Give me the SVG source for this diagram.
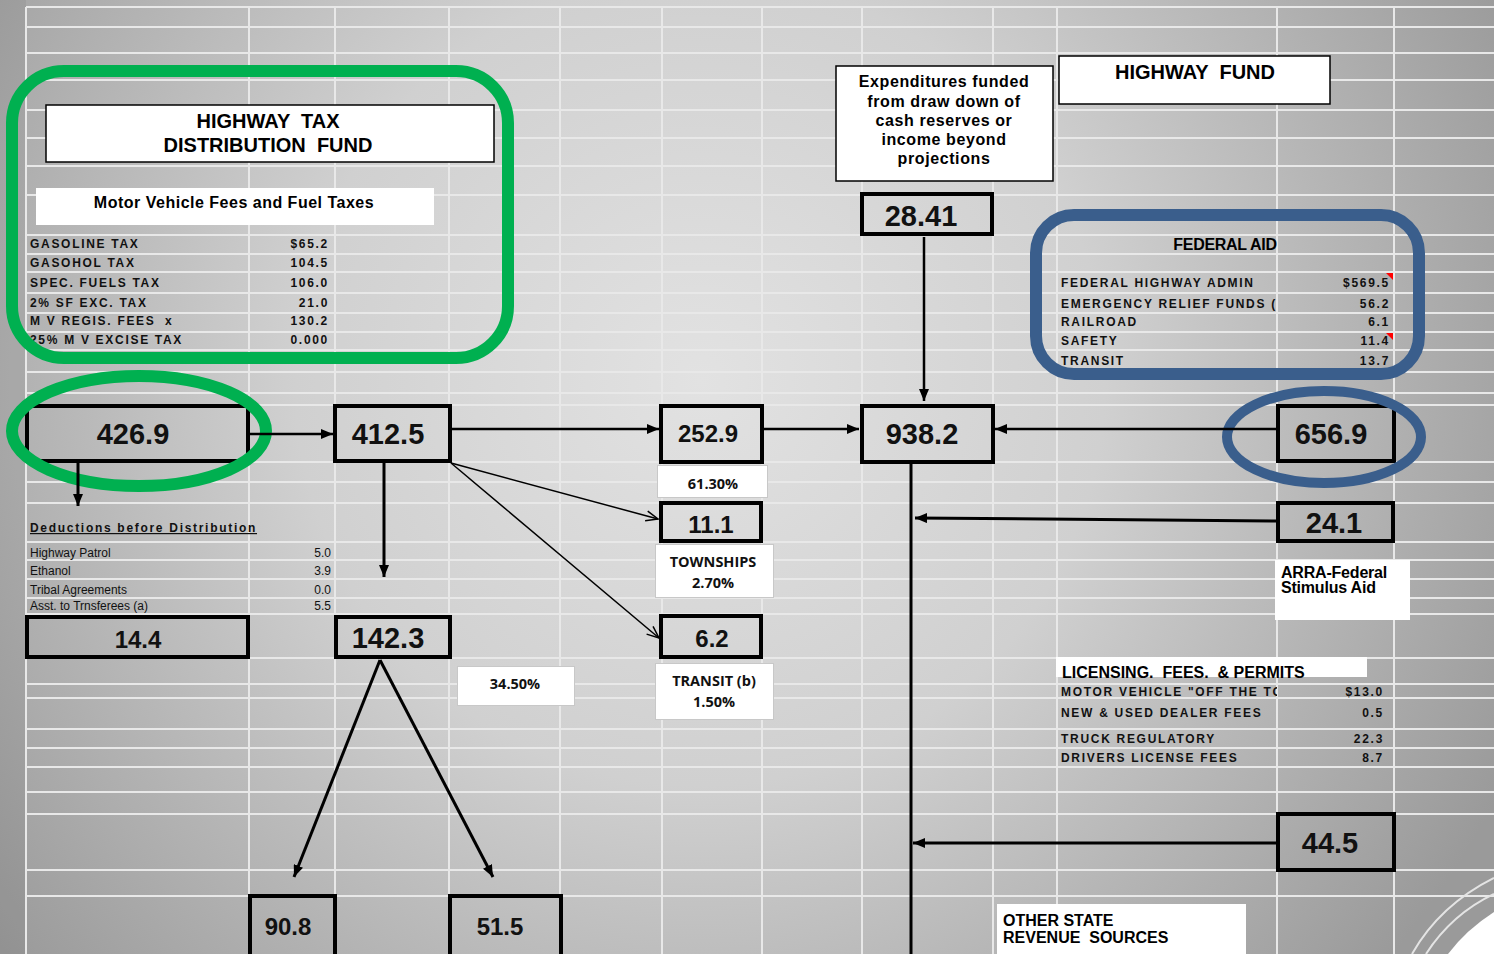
<svg xmlns="http://www.w3.org/2000/svg" width="1494" height="954" viewBox="0 0 1494 954">
<defs>
<radialGradient id="bg" gradientUnits="userSpaceOnUse" cx="700" cy="380" r="900">
<stop offset="0" stop-color="#e2e2e2"/>
<stop offset="0.45" stop-color="#d0d0d0"/>
<stop offset="1" stop-color="#9a9a9a"/>
</radialGradient>
<marker id="ah" viewBox="0 0 12 10" refX="12" refY="5" markerWidth="12" markerHeight="10" markerUnits="userSpaceOnUse" orient="auto"><path d="M0,0 L12,5 L0,10 z" fill="#000"/></marker>
<marker id="ao" viewBox="0 0 14 12" refX="13" refY="6" markerWidth="14" markerHeight="12" markerUnits="userSpaceOnUse" orient="auto"><path d="M1,1 L13,6 L1,11" fill="none" stroke="#000" stroke-width="1.5"/></marker>
<clipPath id="clipFed"><rect x="1040" y="200" width="237" height="200"/></clipPath>
<clipPath id="clipLic"><rect x="1040" y="680" width="237" height="30"/></clipPath>
</defs>
<style>
.grid{stroke:#e8e8e8;stroke-width:2;fill:none}
.nbox{fill:none;stroke:#000;stroke-width:4}
.wbox{fill:#fff;stroke:#000;stroke-width:1.5}
.lbox{fill:#fff;stroke:#c8c8c8;stroke-width:1}
.pbox{fill:#fff;stroke:none}
.big{font-family:"Liberation Sans",Arial,sans-serif;font-weight:bold;font-size:29px;fill:#111;text-anchor:middle}
.med{font-family:"Liberation Sans",Arial,sans-serif;font-weight:bold;font-size:24px;fill:#111;text-anchor:middle}
.title{font-family:"Liberation Sans",Arial,sans-serif;font-weight:bold;font-size:20px;fill:#000;text-anchor:middle}
.sub{font-family:"Liberation Sans",Arial,sans-serif;font-weight:bold;font-size:16px;fill:#000}
.row{font-family:"Liberation Sans",Arial,sans-serif;font-weight:bold;font-size:12px;letter-spacing:1.7px;fill:#111}
.val{font-family:"Liberation Sans",Arial,sans-serif;font-weight:bold;font-size:12px;letter-spacing:1.7px;fill:#111;text-anchor:end}
.ded{font-family:"Liberation Sans",Arial,sans-serif;font-size:12px;fill:#111}
.dedv{font-family:"Liberation Sans",Arial,sans-serif;font-size:12px;fill:#111;text-anchor:end}
.cal{font-family:"Open Sans",sans-serif;font-weight:bold;font-size:14.5px;fill:#111;text-anchor:middle}
.thick{stroke:#000;stroke-width:3;fill:none}
.mid{stroke:#000;stroke-width:2.5;fill:none}
.thin{stroke:#000;stroke-width:1.5;fill:none}
</style>

<!-- background -->
<rect x="0" y="0" width="1494" height="954" fill="url(#bg)"/>
<rect x="0" y="0" width="26" height="954" fill="#000" fill-opacity="0.05"/>
<path class="grid" d="M26,7V954 M249,7V954 M335,7V954 M449,7V954 M560,7V954 M662,7V954 M762,7V954 M862,7V954 M993,7V954 M1057,7V954 M1277,7V954 M1394,7V954
M26,7H1494 M26,27H1494 M26,53H1494 M26,80H1494 M26,110H1494 M26,138H1494 M26,166H1494 M26,195H1494 M26,235H1494 M26,254H1494 M26,272H1494 M26,293H1494 M26,313H1494 M26,332H1494 M26,350H1494 M26,372H1494 M26,393H1494 M26,405H1494 M26,462H1494 M26,482H1494 M26,503H1494 M26,542H1494 M26,560H1494 M26,579H1494 M26,598H1494 M26,614H1494 M26,658H1494 M26,684H1494 M26,698H1494 M26,729H1494 M26,748H1494 M26,767H1494 M26,792H1494 M26,814H1494 M26,870H1494 M26,896H1494"/>
<path d="M1448,954 Q1466,930 1494,912 L1494,954 Z" fill="#fff"/>
<path d="M1412,954 Q1440,905 1494,878" fill="none" stroke="#e4e4e4" stroke-width="2"/>
<path d="M1426,954 Q1452,914 1494,894" fill="none" stroke="#e4e4e4" stroke-width="2"/>

<!-- Highway Tax Distribution Fund panel -->
<g id="htdf-panel">
<rect class="wbox" x="46" y="105" width="448" height="57"/>
<text class="title" x="268" y="128" xml:space="preserve">HIGHWAY  TAX</text>
<text class="title" x="268" y="152" xml:space="preserve">DISTRIBUTION  FUND</text>
<rect class="pbox" x="36" y="188" width="398" height="37"/>
<text class="sub" x="234" y="208" text-anchor="middle" font-size="17" letter-spacing="0.5">Motor Vehicle Fees and Fuel Taxes</text>
<text class="row" x="30" y="248">GASOLINE TAX</text><text class="val" x="329" y="248">$65.2</text>
<text class="row" x="30" y="267">GASOHOL TAX</text><text class="val" x="329" y="267">104.5</text>
<text class="row" x="30" y="287">SPEC. FUELS TAX</text><text class="val" x="329" y="287">106.0</text>
<text class="row" x="30" y="307">2% SF EXC. TAX</text><text class="val" x="329" y="307">21.0</text>
<text class="row" x="30" y="325">M V REGIS. FEES</text><text class="row" x="165" y="325">x</text><text class="val" x="329" y="325">130.2</text>
<text class="row" x="30" y="344">25% M V EXCISE TAX</text><text class="val" x="329" y="344">0.000</text>
<rect x="12" y="71" width="496" height="287" rx="52" ry="52" fill="none" stroke="#00b050" stroke-width="12"/>
</g>

<!-- Highway Fund title -->
<g id="highway-fund">
<rect class="wbox" x="1059" y="56" width="271" height="48"/>
<text class="title" x="1195" y="79" xml:space="preserve">HIGHWAY  FUND</text>
</g>

<!-- Expenditures note -->
<g id="expenditures">
<rect class="wbox" x="836" y="66" width="217" height="115"/>
<text class="sub" x="944" y="87" text-anchor="middle" letter-spacing="0.6">Expenditures funded</text>
<text class="sub" x="944" y="107" text-anchor="middle" letter-spacing="0.6">from draw down of</text>
<text class="sub" x="944" y="126" text-anchor="middle" letter-spacing="0.6">cash reserves or</text>
<text class="sub" x="944" y="145" text-anchor="middle" letter-spacing="0.6">income beyond</text>
<text class="sub" x="944" y="164" text-anchor="middle" letter-spacing="0.6">projections</text>
</g>

<g id="n28-41">
<rect class="nbox" x="862" y="194" width="130" height="40" stroke-width="3.5"/>
<text class="big" x="921" y="226">28.41</text>
</g>

<!-- Federal Aid panel -->
<g id="federal-aid">
<text class="sub" x="1225" y="250" text-anchor="middle" letter-spacing="-0.3">FEDERAL AID</text>
<g clip-path="url(#clipFed)">
<text class="row" x="1061" y="287">FEDERAL HIGHWAY ADMIN</text>
<text class="row" x="1061" y="308">EMERGENCY RELIEF FUNDS (</text>
<text class="row" x="1061" y="326">RAILROAD</text>
<text class="row" x="1061" y="345">SAFETY</text>
<text class="row" x="1061" y="365">TRANSIT</text>
</g>
<text class="val" x="1390" y="287">$569.5</text>
<text class="val" x="1390" y="308">56.2</text>
<text class="val" x="1390" y="326">6.1</text>
<text class="val" x="1390" y="345">11.4</text>
<text class="val" x="1390" y="365">13.7</text>
<path d="M1386,273 L1393,273 L1393,280 Z" fill="#ff0000"/>
<path d="M1386,333 L1393,333 L1393,340 Z" fill="#ff0000"/>
<rect x="1036" y="215" width="383" height="159" rx="38" ry="38" fill="none" stroke="#3a5e8c" stroke-width="12"/>
</g>

<!-- main value nodes -->
<g id="n426-9">
<rect class="nbox" x="27" y="406" width="221" height="55"/>
<text class="big" x="133" y="444">426.9</text>
<ellipse cx="139" cy="431" rx="127" ry="55" fill="none" stroke="#00b050" stroke-width="12"/>
</g>
<g id="n412-5">
<rect class="nbox" x="335" y="406" width="115" height="55"/>
<text class="big" x="388" y="444">412.5</text>
</g>
<g id="n252-9">
<rect class="nbox" x="661" y="406" width="101" height="56"/>
<text class="med" x="708" y="442">252.9</text>
</g>
<g id="l61-30">
<rect class="lbox" x="657.5" y="465.5" width="110" height="32"/>
<text class="cal" x="713" y="489">61.30%</text>
</g>
<g id="n11-1">
<rect class="nbox" x="661" y="503" width="100" height="38"/>
<text class="med" x="711" y="533">11.1</text>
</g>
<g id="l-townships">
<rect class="lbox" x="655.5" y="544.5" width="118" height="53"/>
<text class="cal" x="713" y="567">TOWNSHIPS</text>
<text class="cal" x="713" y="588">2.70%</text>
</g>
<g id="n6-2">
<rect class="nbox" x="661" y="616" width="100" height="41"/>
<text class="med" x="712" y="647">6.2</text>
</g>
<g id="l-transit">
<rect class="lbox" x="655.5" y="663.5" width="118" height="56"/>
<text class="cal" x="714" y="686">TRANSIT (b)</text>
<text class="cal" x="714" y="707">1.50%</text>
</g>
<g id="l34-50">
<rect class="lbox" x="457.5" y="666.5" width="117" height="39"/>
<text class="cal" x="515" y="689">34.50%</text>
</g>
<g id="n938-2">
<rect class="nbox" x="862" y="406" width="131" height="56"/>
<text class="big" x="922" y="444">938.2</text>
</g>
<g id="n656-9">
<rect class="nbox" x="1278" y="406" width="116" height="55"/>
<text class="big" x="1331" y="444">656.9</text>
<ellipse cx="1324" cy="437" rx="97" ry="46" fill="none" stroke="#3a5e8c" stroke-width="10"/>
</g>
<g id="n24-1">
<rect class="nbox" x="1278" y="503" width="115" height="38"/>
<text class="big" x="1334" y="533" font-size="28">24.1</text>
</g>
<g id="l-arra">
<rect class="pbox" x="1275" y="560" width="135" height="60"/>
<text class="sub" x="1281" y="578" font-size="12.5" letter-spacing="-0.2">ARRA-Federal</text>
<text class="sub" x="1281" y="593" font-size="12.5" letter-spacing="-0.2">Stimulus Aid</text>
</g>

<!-- Deductions -->
<g id="deductions">
<text class="row" x="30" y="532" font-size="12.5" letter-spacing="1.3" text-decoration="underline">Deductions before Distribution</text>
<text class="ded" x="30" y="557">Highway Patrol</text><text class="dedv" x="331" y="557">5.0</text>
<text class="ded" x="30" y="575">Ethanol</text><text class="dedv" x="331" y="575">3.9</text>
<text class="ded" x="30" y="594">Tribal Agreements</text><text class="dedv" x="331" y="594">0.0</text>
<text class="ded" x="30" y="610">Asst. to Trnsferees (a)</text><text class="dedv" x="331" y="610">5.5</text>
</g>
<g id="n14-4">
<rect class="nbox" x="27" y="617" width="221" height="40"/>
<text class="med" x="138" y="648">14.4</text>
</g>
<g id="n142-3">
<rect class="nbox" x="336" y="617" width="114" height="40"/>
<text class="big" x="388" y="648">142.3</text>
</g>
<g id="n90-8">
<rect class="nbox" x="250" y="896" width="85" height="70"/>
<text class="med" x="288" y="935">90.8</text>
</g>
<g id="n51-5">
<rect class="nbox" x="450" y="896" width="111" height="70"/>
<text class="med" x="500" y="935">51.5</text>
</g>

<!-- Licensing -->
<g id="licensing">
<rect class="pbox" x="1056" y="657" width="311" height="20"/>
<text class="sub" x="1062" y="678" xml:space="preserve">LICENSING.  FEES.  &amp; PERMITS</text>
<g clip-path="url(#clipLic)">
<text class="row" x="1061" y="696">MOTOR VEHICLE "OFF THE TO</text>
</g>
<text class="val" x="1384" y="696">$13.0</text>
<text class="row" x="1061" y="717">NEW &amp; USED DEALER FEES</text><text class="val" x="1384" y="717">0.5</text>
<text class="row" x="1061" y="743">TRUCK REGULATORY</text><text class="val" x="1384" y="743">22.3</text>
<text class="row" x="1061" y="762">DRIVERS LICENSE FEES</text><text class="val" x="1384" y="762">8.7</text>
</g>
<g id="n44-5">
<rect class="nbox" x="1278" y="814" width="116" height="56"/>
<text class="big" x="1330" y="853">44.5</text>
</g>
<g id="l-other">
<rect class="pbox" x="997" y="904" width="249" height="50"/>
<text class="sub" x="1003" y="926" font-size="16.5" xml:space="preserve">OTHER STATE</text>
<text class="sub" x="1003" y="943" font-size="16.5" xml:space="preserve">REVENUE  SOURCES</text>
</g>

<!-- connectors -->
<g id="connectors">
<line class="mid" x1="250" y1="434" x2="333" y2="434" marker-end="url(#ah)"/>
<line class="thick" x1="78" y1="463" x2="78" y2="506" marker-end="url(#ah)"/>
<line class="mid" x1="452" y1="429" x2="659" y2="429" marker-end="url(#ah)"/>
<line class="thick" x1="384" y1="463" x2="384" y2="577" marker-end="url(#ah)"/>
<line class="thin" x1="451" y1="463" x2="658" y2="519" marker-end="url(#ao)"/>
<line class="thin" x1="451" y1="463" x2="659" y2="638" marker-end="url(#ao)"/>
<line class="thick" x1="380" y1="660" x2="294" y2="877" marker-end="url(#ah)"/>
<line class="thick" x1="380" y1="660" x2="493" y2="877" marker-end="url(#ah)"/>
<line class="mid" x1="764" y1="429" x2="859" y2="429" marker-end="url(#ah)"/>
<line class="mid" x1="924" y1="237" x2="924" y2="401" marker-end="url(#ah)"/>
<line class="mid" x1="1276" y1="429" x2="995" y2="429" marker-end="url(#ah)"/>
<line class="thick" x1="911" y1="463" x2="911" y2="954"/>
<line class="thick" x1="1276" y1="521" x2="915" y2="518" marker-end="url(#ah)"/>
<line class="thick" x1="1276" y1="843" x2="913" y2="843" marker-end="url(#ah)"/>
</g>
</svg>
